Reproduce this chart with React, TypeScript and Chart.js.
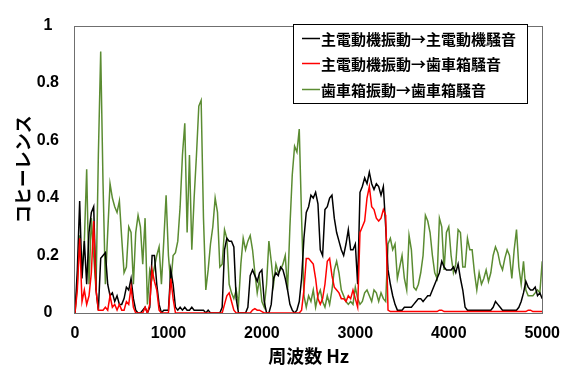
import React, { useEffect, useRef } from 'react';
import { Chart, registerables } from 'chart.js';

Chart.register(...registerables);

const FREQ_STEP_HZ = 25;

// 主電動機振動→主電動機騒音
const motorToMotor = [
  0, 0.15, 0.39, 0.12, 0.25, 0.10, 0.28, 0.35, 0.37, 0.08,
  0.01, 0.19, 0.20, 0.21, 0.10, 0.06, 0.07, 0.04, 0.06, 0.03,
  0.03, 0.05, 0.09, 0.08, 0.12, 0.05, 0.01, 0.00, 0.00, 0.01,
  0.02, 0.00, 0.02, 0.20, 0.20, 0.10, 0.03, 0.00, 0.01, 0.01,
  0.01, 0.15, 0.10, 0.02, 0.01, 0.02, 0.01, 0.02, 0.01, 0.01,
  0.02, 0.01, 0.01, 0.01, 0.01, 0.01, 0.00, 0.01, 0.00, 0.00,
  0.00, 0.00, 0.00, 0.02, 0.22, 0.26, 0.25, 0.25, 0.23, 0.05,
  0.00, 0.00, 0.00, 0.00, 0.02, 0.13, 0.15, 0.13, 0.11, 0.14,
  0.15, 0.04, 0.00, 0.00, 0.03, 0.12, 0.14, 0.13, 0.16, 0.15,
  0.12, 0.08, 0.03, 0.01, 0.00, 0.01, 0.04, 0.12, 0.26, 0.35,
  0.37, 0.41, 0.40, 0.42, 0.38, 0.22, 0.20, 0.36, 0.37, 0.40,
  0.41, 0.33, 0.28, 0.25, 0.22, 0.20, 0.24, 0.29, 0.22, 0.22,
  0.24, 0.10, 0.42, 0.44, 0.47, 0.45, 0.49, 0.45, 0.43, 0.45,
  0.44, 0.41, 0.44, 0.30, 0.15, 0.10, 0.06, 0.03, 0.01, 0.01,
  0.01, 0.02, 0.02, 0.02, 0.02, 0.03, 0.04, 0.05, 0.05, 0.04,
  0.05, 0.06, 0.06, 0.08, 0.10, 0.12, 0.14, 0.18, 0.16, 0.15,
  0.15, 0.15, 0.16, 0.14, 0.17, 0.12, 0.08, 0.02, 0.01, 0.01,
  0.01, 0.01, 0.01, 0.01, 0.01, 0.01, 0.01, 0.01, 0.01, 0.02,
  0.04, 0.03, 0.02, 0.01, 0.01, 0.01, 0.01, 0.01, 0.01, 0.01,
  0.02, 0.04, 0.07, 0.11, 0.09, 0.08, 0.08, 0.09, 0.06, 0.07,
  0.05,
];

// 主電動機振動→歯車箱騒音
const motorToGear = [
  0, 0.08, 0.26, 0.04, 0.08, 0.03, 0.06, 0.14, 0.32, 0.08,
  0.01, 0.01, 0.01, 0.02, 0.01, 0.06, 0.02, 0.03, 0.01, 0.03,
  0.01, 0.01, 0.04, 0.03, 0.09, 0.02, 0.00, 0.00, 0.00, 0.00,
  0.02, 0.00, 0.03, 0.15, 0.11, 0.08, 0.01, 0.00, 0.00, 0.00,
  0.00, 0.12, 0.05, 0.00, 0.00, 0.00, 0.00, 0.00, 0.00, 0.00,
  0.00, 0.00, 0.00, 0.00, 0.00, 0.00, 0.00, 0.00, 0.00, 0.00,
  0.00, 0.00, 0.00, 0.00, 0.03, 0.06, 0.07, 0.04, 0.01, 0.00,
  0.00, 0.00, 0.00, 0.00, 0.00, 0.00, 0.01, 0.015, 0.01, 0.01,
  0.005, 0.00, 0.00, 0.00, 0.00, 0.00, 0.00, 0.00, 0.00, 0.00,
  0.00, 0.00, 0.00, 0.00, 0.00, 0.00, 0.00, 0.01, 0.08, 0.19,
  0.19, 0.18, 0.17, 0.12, 0.05, 0.03, 0.05, 0.10, 0.18, 0.19,
  0.13, 0.09, 0.08, 0.07, 0.05, 0.05, 0.04, 0.06, 0.05, 0.08,
  0.05, 0.02, 0.28, 0.30, 0.32, 0.40, 0.44, 0.37, 0.36, 0.33,
  0.32, 0.33, 0.36, 0.34, 0.01, 0.005, 0.005, 0.005, 0.005, 0.005,
  0.005, 0.005, 0.005, 0.005, 0.005, 0.005, 0.005, 0.005, 0.005, 0.005,
  0.005, 0.005, 0.005, 0.005, 0.005, 0.005, 0.01, 0.01, 0.005, 0.005,
  0.005, 0.005, 0.005, 0.005, 0.005, 0.005, 0.005, 0.005, 0.005, 0.005,
  0.005, 0.005, 0.005, 0.005, 0.005, 0.005, 0.005, 0.005, 0.005, 0.005,
  0.005, 0.005, 0.005, 0.005, 0.005, 0.005, 0.005, 0.005, 0.005, 0.005,
  0.005, 0.005, 0.005, 0.005, 0.01, 0.01, 0.005, 0.005, 0.005, 0.005,
  0.005,
];

// 歯車箱振動→歯車箱騒音
const gearToGear = [
  0, 0.10, 0.27, 0.15, 0.25, 0.50, 0.10, 0.33, 0.20, 0.08,
  0.55, 0.91, 0.45, 0.10, 0.28, 0.45, 0.40, 0.37, 0.35, 0.39,
  0.26, 0.14, 0.16, 0.30, 0.28, 0.10, 0.28, 0.34, 0.30, 0.17,
  0.33, 0.03, 0.15, 0.12, 0.16, 0.20, 0.23, 0.10, 0.25, 0.41,
  0.20, 0.10, 0.20, 0.21, 0.25, 0.37, 0.55, 0.66, 0.28, 0.55,
  0.22, 0.40, 0.55, 0.72, 0.74, 0.33, 0.08, 0.15, 0.24, 0.30,
  0.40, 0.35, 0.16, 0.17, 0.29, 0.26, 0.10, 0.07, 0.05, 0.08,
  0.03, 0.17, 0.26, 0.22, 0.25, 0.27, 0.22, 0.14, 0.07, 0.12,
  0.04, 0.02, 0.10, 0.25, 0.18, 0.10, 0.17, 0.14, 0.15, 0.17,
  0.20, 0.08, 0.30, 0.48, 0.58, 0.56, 0.64, 0.33, 0.06, 0.02,
  0.06, 0.04, 0.08, 0.02, 0.06, 0.08, 0.04, 0.02, 0.06, 0.03,
  0.08, 0.15, 0.18, 0.14, 0.08, 0.06, 0.04, 0.03, 0.04, 0.03,
  0.09, 0.05, 0.03, 0.04, 0.07, 0.08, 0.06, 0.04, 0.08, 0.07,
  0.04, 0.07, 0.05, 0.04, 0.24, 0.26, 0.22, 0.24, 0.12, 0.16,
  0.20, 0.12, 0.08, 0.27, 0.22, 0.09, 0.08, 0.10, 0.14, 0.20,
  0.34, 0.32, 0.28, 0.20, 0.14, 0.12, 0.33, 0.30, 0.15, 0.28,
  0.30, 0.20, 0.14, 0.17, 0.29, 0.28, 0.16, 0.16, 0.26, 0.22,
  0.22, 0.14, 0.08, 0.14, 0.10, 0.12, 0.15, 0.11, 0.14, 0.20,
  0.23, 0.21, 0.17, 0.15, 0.19, 0.22, 0.20, 0.12, 0.22, 0.29,
  0.16, 0.10, 0.18, 0.08, 0.06, 0.06, 0.06, 0.07, 0.08, 0.07,
  0.18,
];

const freqs = motorToMotor.map((_, i) => i * FREQ_STEP_HZ);

const seriesLabels = [
  '主電動機振動→主電動機騒音',
  '主電動機振動→歯車箱騒音',
  '歯車箱振動→歯車箱騒音',
];
const seriesValues = [motorToMotor, motorToGear, gearToGear];
const seriesColors = ['#000000', '#ff0000', '#5b8c32'];
const seriesOrder = [1, 0, 2];

const xTitle = '周波数 Hz';
const yTitle = 'コヒーレンス';
const xTickLabels = ['0', '1000', '2000', '3000', '4000', '5000'];
const yTickLabels = ['0', '0.2', '0.4', '0.6', '0.8', '1'];
const xMin = 0;
const xMax = 5000;
const xStep = 1000;
const yMin = 0;
const yMax = 1;
const yStep = 0.2;

const NUM_FONT = '"Liberation Sans", Arial, "Noto Sans CJK JP", sans-serif';
const JP_FONT = '"Noto Sans CJK JP", "Liberation Sans", sans-serif';

const frameAndLegend = {
  id: 'frameAndLegend',
  afterDatasetsDraw(chart: any) {
    const { ctx, chartArea: a } = chart;
    ctx.save();
    // plot frame
    ctx.strokeStyle = '#6f6f6f';
    ctx.lineWidth = 1;
    ctx.strokeRect(
      Math.round(a.left) - 0.5,
      Math.round(a.top) + 0.5,
      Math.round(a.right) - Math.round(a.left) + 1,
      Math.round(a.bottom) - Math.round(a.top),
    );
    // legend box
    const bx = 293.5, by = 24.5, bw = 234, bh = 79;
    ctx.fillStyle = '#ffffff';
    ctx.fillRect(bx, by, bw, bh);
    ctx.strokeStyle = '#000000';
    ctx.strokeRect(bx, by, bw, bh);
    ctx.font = `bold 15px ${JP_FONT}`;
    ctx.textBaseline = 'middle';
    ctx.textAlign = 'left';
    const rows = [38.5, 63.5, 89.5];
    chart.data.datasets.forEach((ds: any, i: number) => {
      const y = rows[i];
      ctx.strokeStyle = ds.borderColor;
      ctx.lineWidth = 1.5;
      ctx.beginPath();
      ctx.moveTo(302, y);
      ctx.lineTo(320, y);
      ctx.stroke();
      ctx.fillStyle = '#000000';
      ctx.fillText(ds.label, 321, y + 1);
    });
    ctx.restore();
  },
};

export default function App() {
  const canvasRef = useRef<HTMLCanvasElement | null>(null);

  useEffect(() => {
    document.body.style.margin = '0';
    const canvas = canvasRef.current;
    if (!canvas) return;
    const chart = new Chart(canvas, {
      type: 'line',
      data: {
        datasets: seriesLabels.map((label, k) => ({
          label,
          data: freqs.map((f, i) => ({ x: f, y: seriesValues[k][i] })),
          borderColor: seriesColors[k],
          backgroundColor: seriesColors[k],
          borderWidth: 1.5,
          pointRadius: 0,
          tension: 0,
          fill: false,
          order: seriesOrder[k],
        })),
      },
      options: {
        animation: false,
        responsive: true,
        maintainAspectRatio: false,
        layout: { padding: { top: 15, right: 21, left: 0, bottom: 0 } },
        plugins: {
          legend: { display: false },
          tooltip: { enabled: false },
        },
        scales: {
          x: {
            type: 'linear',
            min: xMin,
            max: xMax,
            afterFit: (scale: any) => {
              scale.height = 57;
            },
            grid: { display: false, drawTicks: false },
            border: { display: false },
            ticks: {
              stepSize: xStep,
              padding: 11,
              color: '#000',
              maxRotation: 0,
              callback: (_v: any, i: number) => xTickLabels[i],
              font: { family: NUM_FONT, size: 16, weight: 'bold' },
            },
            title: {
              display: true,
              text: xTitle,
              color: '#000',
              padding: { top: 0, bottom: 3 },
              font: { family: JP_FONT, size: 18, weight: 'bold' },
            },
          },
          y: {
            min: yMin,
            max: yMax,
            afterFit: (scale: any) => {
              scale.width = 75;
            },
            grid: { display: false, drawTicks: false },
            border: { display: false },
            ticks: {
              stepSize: yStep,
              padding: 16,
              crossAlign: 'center',
              color: '#000',
              callback: (_v: any, i: number) => yTickLabels[i],
              font: { family: NUM_FONT, size: 16, weight: 'bold' },
            },
            title: {
              display: true,
              text: yTitle,
              color: '#000',
              padding: { top: 12, bottom: 0 },
              font: { family: JP_FONT, size: 18, weight: 'bold' },
            },
          },
        },
      },
      plugins: [frameAndLegend],
    } as any);
    return () => chart.destroy();
  }, []);

  return (
    <div style={{ width: 571, height: 370, position: 'relative', background: '#fff' }}>
      <canvas ref={canvasRef} />
    </div>
  );
}
